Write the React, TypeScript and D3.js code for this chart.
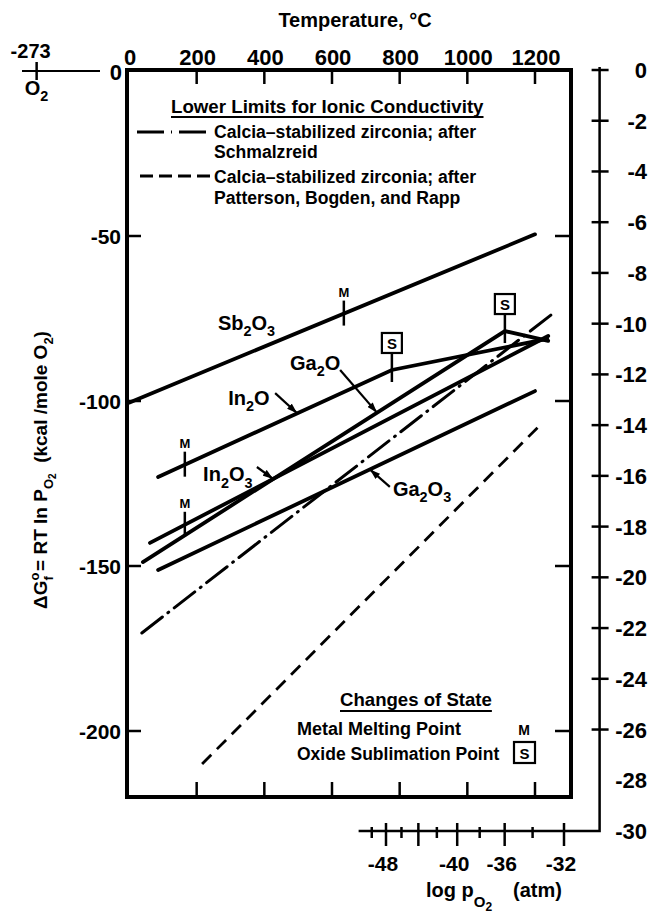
import React, { Component } from "react";
import * as d3 from "d3";

// Temperature axis, deg C (top labels, ticks top and bottom of the box)
const tempTicks = [0, 200, 400, 600, 800, 1000, 1200];
// Free energy ticks, kcal/mole O2
const dgTicks = [-50, -100, -150, -200];
// log pO2 scale on the right side
const logpRight = [0, -2, -4, -6, -8, -10, -12, -14, -16, -18, -20, -22, -24, -26, -28, -30];
const logpRightNoTick = [-28, -30];
// log pO2 scale along the bottom
const logpBottomMajor = [-48, -44, -40, -36, -32];
const logpBottomMinor = [-50, -46, -42, -38, -34];
const logpBottomLabels = [-48, -40, -36, -32];

// Oxide lines: temperature (C) and dG (kcal/mole O2)
const sb2o3T = [0, 1200];
const sb2o3G = [-100.5, -49.5];
const in2oT = [86, 777, 1236];
const in2oG = [-123, -90.6, -81.2];
const in2o3T = [62, 1239];
const in2o3G = [-143, -80.3];
const ga2oT = [41, 1111, 1239];
const ga2oG = [-148.8, -78.8, -81.8];
const ga2o3T = [86, 1200];
const ga2o3G = [-151.2, -97];

// Lower limits for ionic conductivity (calcia-stabilized zirconia)
const schmalzT = [38, 1259];
const schmalzG = [-170.3, -73];
const pbrT = [216, 1215];
const pbrG = [-210, -107.3];

// Changes of state
const meltOn = ["Sb2O3", "In2O", "In2O3"];
const meltT = [635, 165, 165];
const sublOn = ["In2O", "Ga2O"];
const sublT = [777, 1111];

// Line labels (start of text, in T / dG) and leader arrows
const labelNames = ["Sb2O3", "In2O", "Ga2O", "In2O3", "Ga2O3"];
const labelT = [263, 293, 476, 219, 780];
const labelG = [-78.5, -101.2, -90.6, -124.3, -128.8];
const leaderOn = ["In2O", "Ga2O", "In2O3", "Ga2O3"];
const leaderFromT = [432, 624, 378, 771];
const leaderFromG = [-97.6, -90.6, -120, -126];
const leaderToT = [497, 733, 426, 712];

const FONT = "'Liberation Sans', Arial, Helvetica, sans-serif";

// digits in a formula become subscripts
function addFormula(text, str, size) {
  const parts = str.match(/\d+|\D+/g) || [];
  let down = false;
  parts.forEach(p => {
    const ts = text.append("tspan").text(p);
    if (/\d/.test(p)) {
      ts.attr("dy", down ? 0 : size * 0.32).style("font-size", `${size * 0.72}px`);
      down = true;
    } else {
      ts.attr("dy", down ? -size * 0.32 : 0);
      down = false;
    }
  });
}

class App extends Component {
  svgRef = React.createRef<SVGSVGElement>();

  componentDidMount() {
    this.renderChart();
  }

  componentDidUpdate() {
    this.renderChart();
  }

  renderChart() {
    const svg = d3.select(this.svgRef.current);
    svg.selectAll("*").remove();

    const box = { left: 127, right: 571, top: 70, bottom: 797 };

    const x = d3.scaleLinear().domain([0, 1200]).range([129, 535]);
    const y = d3.scaleLinear().domain([0, -220]).range([71, 797]);
    const yR = d3.scaleLinear().domain([0, -30]).range([70, 831]);
    // bottom log pO2 scale is linear in 1/log p
    const xInv = d3.scaleLinear().domain([-1 / 48, -1 / 32]).range([386, 564]);
    const xB = v => xInv(1 / v);
    const axisX = xB(-30);
    const axisY = yR(-30);

    const series = [
      { name: "Sb2O3", T: sb2o3T, G: sb2o3G, kind: "solid" },
      { name: "In2O", T: in2oT, G: in2oG, kind: "solid" },
      { name: "In2O3", T: in2o3T, G: in2o3G, kind: "solid" },
      { name: "Ga2O", T: ga2oT, G: ga2oG, kind: "solid" },
      { name: "Ga2O3", T: ga2o3T, G: ga2o3G, kind: "solid" },
      { name: "schmalz", T: schmalzT, G: schmalzG, kind: "dashdot" },
      { name: "pbr", T: pbrT, G: pbrG, kind: "dash" }
    ];
    const gAt = (name, t) => {
      const s = series.find(d => d.name === name);
      return d3.scaleLinear().domain(s.T).range(s.G)(t);
    };

    const defs = svg.append("defs");
    defs
      .append("marker")
      .attr("id", "arrow")
      .attr("viewBox", "0 0 12 8")
      .attr("refX", 12)
      .attr("refY", 4)
      .attr("markerWidth", 11)
      .attr("markerHeight", 7)
      .attr("markerUnits", "userSpaceOnUse")
      .attr("orient", "auto")
      .append("path")
      .attr("d", "M0,0L12,4L0,8Z")
      .attr("fill", "#000");

    const g = svg.append("g").style("font-family", FONT).style("font-weight", "bold");

    // frame
    g.append("rect")
      .attr("x", box.left)
      .attr("y", box.top)
      .attr("width", box.right - box.left)
      .attr("height", box.bottom - box.top)
      .attr("fill", "none")
      .attr("stroke", "#000")
      .attr("stroke-width", 4);

    // temperature ticks and labels
    tempTicks.filter(t => t > 0).forEach(t => {
      g.append("line").attr("x1", x(t)).attr("x2", x(t)).attr("y1", box.top).attr("y2", box.top + 14)
        .attr("stroke", "#000").attr("stroke-width", 2.5);
      g.append("line").attr("x1", x(t)).attr("x2", x(t)).attr("y1", box.bottom - 15).attr("y2", box.bottom)
        .attr("stroke", "#000").attr("stroke-width", 2.5);
    });
    tempTicks.forEach(t => {
      g.append("text").attr("x", x(t) + 1).attr("y", 65).attr("text-anchor", "middle")
        .style("font-size", "22px").text(t);
    });
    g.append("text").attr("x", 355).attr("y", 27).attr("text-anchor", "middle")
      .style("font-size", "20px").text("Temperature, \u00b0C");

    // dG ticks, left and right side of box
    dgTicks.forEach(v => {
      g.append("line").attr("x1", box.left).attr("x2", box.left + 14).attr("y1", y(v)).attr("y2", y(v))
        .attr("stroke", "#000").attr("stroke-width", 2.5);
      g.append("line").attr("x1", box.right - 16).attr("x2", box.right).attr("y1", y(v)).attr("y2", y(v))
        .attr("stroke", "#000").attr("stroke-width", 2.5);
      g.append("text").attr("x", 121).attr("y", y(v) + 7.5).attr("text-anchor", "end")
        .style("font-size", "21px").text(v);
    });
    g.append("text").attr("x", 122).attr("y", y(0) + 9).attr("text-anchor", "end")
      .style("font-size", "22px").text("0");

    // O2 point at absolute zero
    const x0 = x(-273);
    g.append("line").attr("x1", 22).attr("x2", 100).attr("y1", y(0)).attr("y2", y(0))
      .attr("stroke", "#000").attr("stroke-width", 1.8);
    g.append("line").attr("x1", x0).attr("x2", x0).attr("y1", y(0) - 9).attr("y2", y(0) + 9)
      .attr("stroke", "#000").attr("stroke-width", 2.5);
    g.append("text").attr("x", x0 - 6).attr("y", 58).attr("text-anchor", "middle")
      .style("font-size", "20px").text("-273");
    const o2 = g.append("text").attr("x", x0 - 12).attr("y", 95).style("font-size", "20px");
    addFormula(o2, "O2", 20);

    // y title
    const yt = g.append("text")
      .attr("transform", "translate(47,470) rotate(-90)")
      .attr("text-anchor", "middle")
      .style("font-size", "19px");
    yt.append("tspan").text("\u0394G");
    yt.append("tspan").attr("dy", -8).style("font-size", "13px").text("o");
    yt.append("tspan").attr("dx", -8).attr("dy", 14).style("font-size", "13px").text("f");
    yt.append("tspan").attr("dy", -6).text(" = RT ln P");
    yt.append("tspan").attr("dy", 6).style("font-size", "13px").text("O");
    yt.append("tspan").attr("dy", 3).style("font-size", "10px").text("2");
    yt.append("tspan").attr("dy", -9).text("\u00a0\u00a0(kcal /mole O");
    yt.append("tspan").attr("dy", 6).style("font-size", "13px").text("2");
    yt.append("tspan").attr("dy", -6).text(")");

    // right log pO2 axis and bottom log pO2 axis
    g.append("path")
      .attr("d", `M${axisX},${yR(0) - 3}L${axisX},${axisY}L${xB(-52)},${axisY}`)
      .attr("fill", "none").attr("stroke", "#000").attr("stroke-width", 2.5);
    logpRight.forEach(v => {
      if (!logpRightNoTick.includes(v)) {
        g.append("line").attr("x1", axisX - 8).attr("x2", axisX + 9).attr("y1", yR(v)).attr("y2", yR(v))
          .attr("stroke", "#000").attr("stroke-width", 2.5);
      }
      g.append("text").attr("x", 647).attr("y", yR(v) + 8).attr("text-anchor", "end")
        .style("font-size", "22px").text(v);
    });
    logpBottomMajor.forEach(v => {
      g.append("line").attr("x1", xB(v)).attr("x2", xB(v)).attr("y1", axisY - 8).attr("y2", axisY + 15)
        .attr("stroke", "#000").attr("stroke-width", 2.5);
    });
    logpBottomMinor.forEach(v => {
      g.append("line").attr("x1", xB(v)).attr("x2", xB(v)).attr("y1", axisY - 4).attr("y2", axisY + 7)
        .attr("stroke", "#000").attr("stroke-width", 2.5);
    });
    logpBottomLabels.forEach(v => {
      g.append("text").attr("x", xB(v) - 3).attr("y", 871).attr("text-anchor", "middle")
        .style("font-size", "21px").text(v);
    });
    const lp = g.append("text").attr("x", 426).attr("y", 897).style("font-size", "20px");
    lp.append("tspan").text("log p");
    lp.append("tspan").attr("dy", 10).style("font-size", "15px").text("O");
    lp.append("tspan").attr("dy", 4).style("font-size", "12px").text("2");
    g.append("text").attr("x", 513).attr("y", 897).style("font-size", "20px").text("(atm)");

    // data lines
    const line = d3.line().x(d => x(d[0])).y(d => y(d[1]));
    series.forEach(s => {
      const pts = s.T.map((t, i) => [t, s.G[i]]);
      const p = g.append("path").attr("d", line(pts)).attr("fill", "none").attr("stroke", "#000");
      if (s.kind === "solid") p.attr("stroke-width", 3.8).attr("stroke-linecap", "round");
      if (s.kind === "dashdot") p.attr("stroke-width", 3).attr("stroke-dasharray", "26 7 1 7").attr("stroke-linecap", "round");
      if (s.kind === "dash") p.attr("stroke-width", 2.8).attr("stroke-dasharray", "13 8");
    });

    // metal melting points
    meltOn.forEach((name, i) => {
      const px = x(meltT[i]);
      const py = y(gAt(name, meltT[i]));
      g.append("line").attr("x1", px).attr("x2", px).attr("y1", py - 13).attr("y2", py + 12)
        .attr("stroke", "#000").attr("stroke-width", 2.5);
      g.append("text").attr("x", px).attr("y", py - 17).attr("text-anchor", "middle")
        .style("font-size", "13px").text("M");
    });

    // oxide sublimation points
    sublOn.forEach((name, i) => {
      const px = x(sublT[i]);
      const py = y(gAt(name, sublT[i]));
      g.append("line").attr("x1", px).attr("x2", px).attr("y1", py - 17).attr("y2", py + 12)
        .attr("stroke", "#000").attr("stroke-width", 2.5);
      g.append("rect").attr("x", px - 10).attr("y", py - 37).attr("width", 20).attr("height", 20)
        .attr("fill", "#fff").attr("stroke", "#000").attr("stroke-width", 2.2);
      g.append("text").attr("x", px).attr("y", py - 21).attr("text-anchor", "middle")
        .style("font-size", "15px").text("S");
    });

    // labels and leaders
    labelNames.forEach((name, i) => {
      const t = g.append("text").attr("x", x(labelT[i])).attr("y", y(labelG[i])).style("font-size", "20px");
      addFormula(t, name, 20);
    });
    leaderOn.forEach((name, i) => {
      g.append("line")
        .attr("x1", x(leaderFromT[i]))
        .attr("y1", y(leaderFromG[i]))
        .attr("x2", x(leaderToT[i]))
        .attr("y2", y(gAt(name, leaderToT[i])))
        .attr("stroke", "#000")
        .attr("stroke-width", 2.2)
        .attr("marker-end", "url(#arrow)");
    });

    // legend: lower limits
    const title = g.append("text").attr("x", 171).attr("y", 113).style("font-size", "18.7px")
      .text("Lower Limits for Ionic Conductivity");
    const tw = title.node().getComputedTextLength();
    g.append("line").attr("x1", 171).attr("x2", 171 + tw).attr("y1", 117).attr("y2", 117)
      .attr("stroke", "#000").attr("stroke-width", 2);
    g.append("line").attr("x1", 137).attr("x2", 212).attr("y1", 132).attr("y2", 132)
      .attr("stroke", "#000").attr("stroke-width", 3).attr("stroke-dasharray", "27 7 1 7");
    g.append("line").attr("x1", 140).attr("x2", 212).attr("y1", 176).attr("y2", 176)
      .attr("stroke", "#000").attr("stroke-width", 2.8).attr("stroke-dasharray", "13 6");
    [["Calcia\u2013stabilized zirconia; after", 138], ["Schmalzreid", 158],
     ["Calcia\u2013stabilized zirconia; after", 183], ["Patterson, Bogden, and Rapp", 204]]
      .forEach(([txt, yy]) => {
        g.append("text").attr("x", 214).attr("y", yy).style("font-size", "17.6px").text(txt);
      });

    // legend: changes of state
    const cs = g.append("text").attr("x", 340).attr("y", 706).style("font-size", "18.6px").text("Changes of State");
    const cw = cs.node().getComputedTextLength();
    g.append("line").attr("x1", 340).attr("x2", 340 + cw).attr("y1", 711).attr("y2", 711)
      .attr("stroke", "#000").attr("stroke-width", 2);
    g.append("text").attr("x", 297).attr("y", 735).style("font-size", "18px").text("Metal Melting Point");
    g.append("text").attr("x", 297).attr("y", 760).style("font-size", "17.5px").text("Oxide Sublimation Point");
    g.append("text").attr("x", 524).attr("y", 735).attr("text-anchor", "middle").style("font-size", "14px").text("M");
    g.append("rect").attr("x", 514).attr("y", 742).attr("width", 21).attr("height", 21)
      .attr("fill", "#fff").attr("stroke", "#000").attr("stroke-width", 2.2);
    g.append("text").attr("x", 524.5).attr("y", 758.5).attr("text-anchor", "middle").style("font-size", "15px").text("S");
  }

  render() {
    return (
      <svg
        ref={this.svgRef}
        width={655}
        height={922}
        style={{ position: "absolute", left: 0, top: 0, background: "#fff" }}
      />
    );
  }
}

export default App;
